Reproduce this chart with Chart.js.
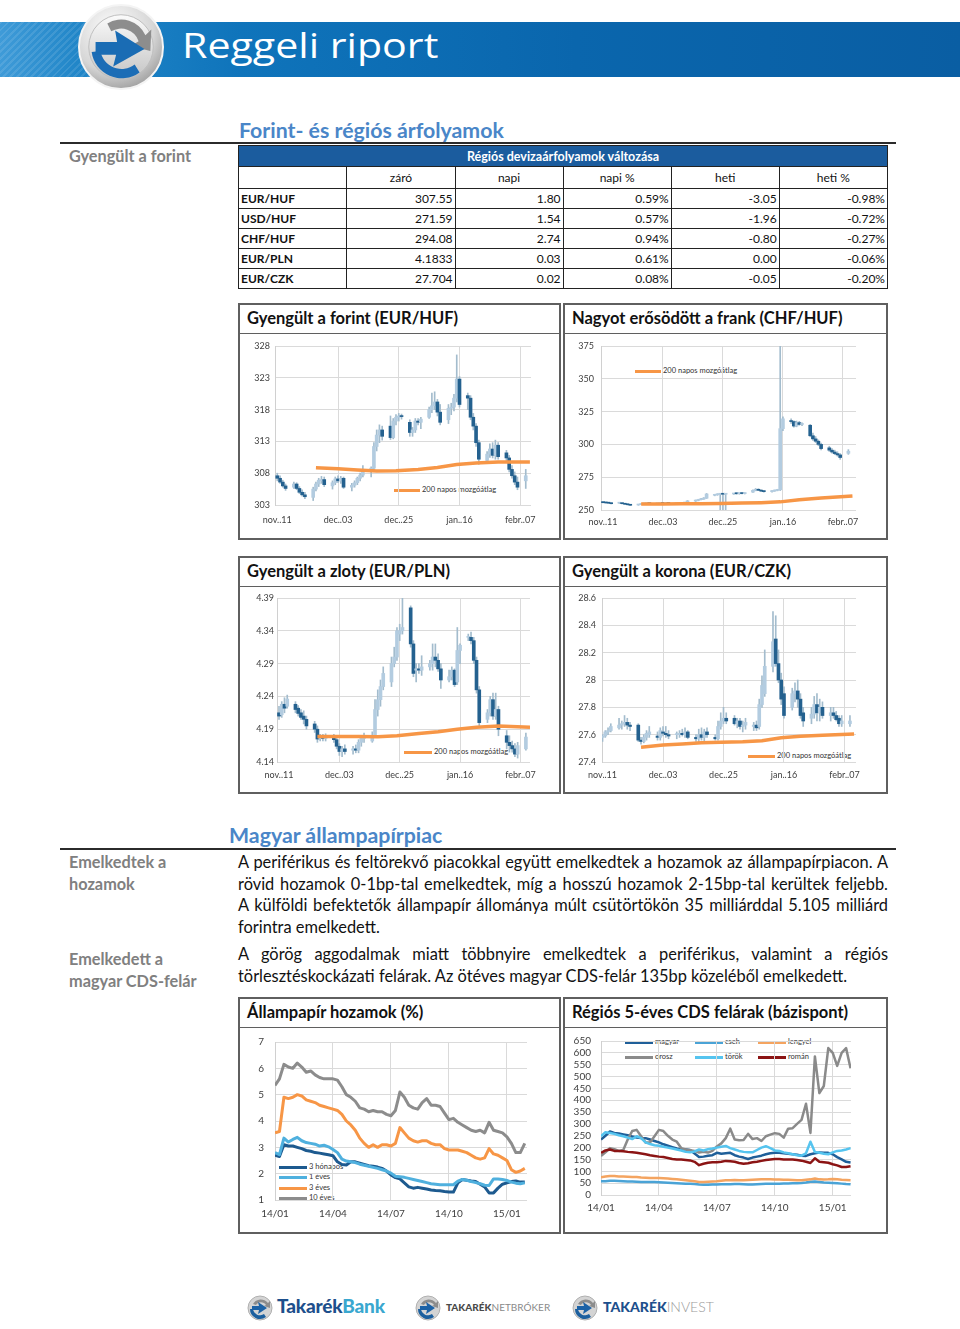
<!DOCTYPE html>
<html>
<head>
<meta charset="utf-8">
<script src="https://cdn.jsdelivr.net/npm/chart.js@4.4.1/dist/chart.umd.min.js"></script>
<style>
  body { margin:0; width:960px; height:1329px; position:relative; background:#fff; font-family:Lato, sans-serif; overflow:hidden; }
  .abs { position:absolute; }
  .band { left:0; top:22px; width:960px; height:55px;
    background:linear-gradient(90deg,#3f9bd8 0,#2186c8 8%,#0f74bb 25%,#0a66ad 60%,#0a5ea3 100%); }
  .stripes { left:0; top:22px; width:110px; height:55px;
    background:repeating-linear-gradient(135deg,rgba(255,255,255,.10) 0 2px,rgba(255,255,255,0) 2px 5px); }
  .brand { left:182px; top:28px; font-family:"Open Sans",sans-serif; font-size:34px; line-height:34px; color:#fff;
    transform:scaleX(1.21); transform-origin:left top; white-space:nowrap; }
  .h2 { font-weight:700; color:#4a86c8; font-size:21.3px; white-space:nowrap; }
  .rule { height:2px; background:#2b2b2b; }
  .side { color:#808080; font-weight:700; font-size:16.3px; line-height:22px; white-space:nowrap; }
  table.fx { position:absolute; left:238px; top:145px; width:650px; border-collapse:collapse; font-size:12px; color:#111; }
  table.fx td, table.fx th { border:1px solid #222; height:19px; padding:0 2px; }
  table.fx th { background:#1b5c9e; color:#fff; font-weight:700; font-size:12.5px; height:20px; }
  table.fx tr.hd td { text-align:center; height:21px; }
  table.fx td.num { text-align:right; }
  table.fx td.nm { font-weight:700; text-align:left; }
  .box { position:absolute; border:2px solid #5f5f5f; box-sizing:border-box; background:#fff; }
  .ttl { height:29px; border-bottom:1.5px solid #5f5f5f; box-sizing:border-box; font-weight:700; font-size:16.5px;
    line-height:27px; padding-left:7px; color:#111; white-space:nowrap; }
  canvas { position:absolute; }
  .lg { position:absolute; display:flex; align-items:center; font-size:7.5px; color:#333; white-space:nowrap; line-height:10px; }
  .lg i { display:inline-block; margin-right:2px; }
  .par { position:absolute; left:238px; width:650px; font-size:16.4px; line-height:21.7px; color:#111; }
  .par div { text-align:justify; text-align-last:justify; white-space:nowrap; }
  .par div.last { text-align-last:left; }
  .foot { position:absolute; top:1296px; display:flex; align-items:center; white-space:nowrap; }
</style>
</head>
<body>

<div class="abs band"></div>
<div class="abs stripes"></div>
<svg class="abs" style="left:77px;top:3px" width="88" height="88" viewBox="0 0 90 90">
  <defs>
    <radialGradient id="ring" cx="40%" cy="30%" r="75%">
      <stop offset="0" stop-color="#ffffff"/><stop offset="0.65" stop-color="#d6d6d6"/><stop offset="1" stop-color="#9c9c9c"/>
    </radialGradient>
    <linearGradient id="inner" x1="0" y1="0" x2="0" y2="1">
      <stop offset="0" stop-color="#fbfbfb"/><stop offset="1" stop-color="#c4c4c4"/>
    </linearGradient>
  </defs>
  <circle cx="45" cy="45" r="43" fill="url(#ring)" stroke="#f4f4f4" stroke-width="2"/>
  <circle cx="45" cy="45" r="33" fill="url(#inner)" stroke="#bdbdbd" stroke-width="1"/>
  <path d="M31 21 A27 27 0 0 1 70 33 L76 27 L75 49 L55 44 L63 39 A19 19 0 0 0 35 29 Z" fill="#8d8d8d"/>
  <path d="M15 50 A31 31 0 0 0 64 71 L59 63 A22 22 0 0 1 24 49 Z" fill="#1c6db6"/>
  <path d="M19 40 L41 40 L39 28 L69 47 L37 65 L40 53 L19 53 Z" fill="#1a6cb4"/>
</svg>
<div class="abs brand">Reggeli riport</div>

<div class="abs h2" style="left:239px;top:117px">Forint- és régiós árfolyamok</div>
<div class="abs rule" style="left:60px;top:142px;width:836px"></div>
<div class="abs side" style="left:69px;top:145px">Gyengült a forint</div>

<table class="fx" id="fxTable"></table>

<div class="box" style="left:238px;top:303px;width:323px;height:237px"><div class="ttl">Gyengült a forint (EUR/HUF)</div></div>
<div class="box" style="left:563px;top:303px;width:325px;height:237px"><div class="ttl">Nagyot erősödött a frank (CHF/HUF)</div></div>
<div class="box" style="left:238px;top:556px;width:323px;height:238px"><div class="ttl">Gyengült a zloty (EUR/PLN)</div></div>
<div class="box" style="left:563px;top:556px;width:325px;height:238px"><div class="ttl">Gyengült a korona (EUR/CZK)</div></div>

<div class="abs h2" style="left:229px;top:822px">Magyar állampapírpiac</div>
<div class="abs rule" style="left:60px;top:848px;width:836px"></div>
<div class="abs side" style="left:69px;top:851px">Emelkedtek a<br>hozamok</div>
<div class="abs side" style="left:69px;top:948px">Emelkedett a<br>magyar CDS-felár</div>
<div class="par" style="top:851px">
  <div>A periférikus és feltörekvő piacokkal együtt emelkedtek a hozamok az állampapírpiacon. A</div>
  <div>rövid hozamok 0-1bp-tal emelkedtek, míg a hosszú hozamok 2-15bp-tal kerültek feljebb.</div>
  <div>A külföldi befektetők állampapír állománya múlt csütörtökön 35 milliárddal 5.105 milliárd</div>
  <div class="last">forintra emelkedett.</div>
</div>
<div class="par" style="top:943px">
  <div>A görög aggodalmak miatt többnyire emelkedtek a periférikus, valamint a régiós</div>
  <div class="last">törlesztéskockázati felárak. Az ötéves magyar CDS-felár 135bp közeléből emelkedett.</div>
</div>

<div class="box" style="left:238px;top:997px;width:323px;height:237px"><div class="ttl">Állampapír hozamok (%)</div></div>
<div class="box" style="left:563px;top:997px;width:325px;height:237px"><div class="ttl">Régiós 5-éves CDS felárak (bázispont)</div></div>

<div id="legends"></div>
<div id="footer"></div>

<script>
// ---- table ----
const fxCols = ['záró', 'napi', 'napi %', 'heti', 'heti %'];
const fxPairs = ['EUR/HUF', 'USD/HUF', 'CHF/HUF', 'EUR/PLN', 'EUR/CZK'];
const fxClose = ['307.55', '271.59', '294.08', '4.1833', '27.704'];
const fxDay = ['1.80', '1.54', '2.74', '0.03', '0.02'];
const fxDayPct = ['0.59%', '0.57%', '0.94%', '0.61%', '0.08%'];
const fxWeek = ['-3.05', '-1.96', '-0.80', '0.00', '-0.05'];
const fxWeekPct = ['-0.98%', '-0.72%', '-0.27%', '-0.06%', '-0.20%'];

// ---- FX candles: days counted from nov. 11, one row per trading day [open, high, low, close] ----
const tradeDays = [0,1,2,3, 6,7,8,9,10, 13,14,15,16,17, 20,21,22,23,24, 27,28,29,30,31, 34,35,36,37,38,
  41,42,43,44,45, 48,49,50,51,52, 55,56,57,58,59, 62,63,64,65,66, 69,70,71,72,73, 76,77,78,79,80, 83,84,85,86,87, 90];
const dayTicks = [0, 22, 44, 66, 88];
const dayTickLabels = ['nov..11', 'dec..03', 'dec..25', 'jan..16', 'febr..07'];
const maDays = [14, 22, 29, 36, 43, 51, 58, 65, 72, 80, 91.5];

const eurhuf = [
  [307.6,308.0,306.8,307.2],[307.2,307.6,306.4,306.6],[306.6,306.9,305.8,306.0],[306.0,306.3,305.3,305.6],
  [305.8,306.6,305.6,306.3],[306.3,306.5,305.4,305.6],[305.6,305.9,304.8,305.0],[305.0,305.4,304.4,304.6],[304.6,305.0,304.0,304.3],
  [304.2,305.8,303.7,305.5],[305.5,306.6,305.2,306.3],[306.3,307.2,305.9,306.9],[306.8,307.5,306.4,307.0],[307.0,307.4,305.9,306.2],
  [306.0,306.8,305.5,306.5],[306.5,307.4,306.2,307.1],[307.1,307.6,306.5,306.8],[306.8,307.5,306.4,307.2],[307.2,307.4,305.6,305.8],
  [305.8,306.4,305.2,306.1],[306.1,306.8,305.8,306.5],[306.5,307.4,306.2,307.2],[307.2,308.0,306.8,307.7],[307.7,309.2,307.4,308.6],
  [308.4,309.0,307.4,308.8],[308.8,312.8,308.5,312.2],[312.2,314.8,311.5,314.0],[314.0,315.6,312.8,314.8],[314.8,315.4,313.2,313.8],
  [315.4,317.0,313.3,313.6],[313.6,316.6,313.4,316.2],[316.2,317.2,315.6,316.8],[316.8,317.4,316.2,317.0],[317.0,317.3,316.5,316.9],
  [316.0,316.4,313.8,314.4],[314.4,315.2,313.8,314.8],[314.8,316.6,314.4,316.2],[316.2,316.6,315.6,316.0],[316.0,316.8,315.0,316.5],
  [316.8,318.4,316.6,318.0],[318.0,320.6,317.5,318.6],[318.6,320.8,318.0,319.2],[319.2,319.6,317.0,317.6],[317.6,318.8,315.6,316.0],
  [316.4,318.8,315.8,318.2],[318.2,319.0,317.2,318.4],[318.4,320.4,317.8,319.8],[319.8,326.6,319.2,322.8],[322.8,323.2,318.4,318.8],
  [320.2,320.6,318.0,319.8],[319.8,320.2,316.4,316.8],[316.8,317.4,314.8,315.4],[315.4,315.8,312.2,312.8],[312.8,313.2,309.4,310.2],
  [310.0,311.4,309.6,311.0],[311.0,312.6,310.5,311.8],[311.8,312.8,310.4,310.8],[310.8,313.2,310.2,312.4],[312.4,312.8,310.2,310.6],
  [311.2,311.6,309.8,310.4],[310.4,310.8,308.2,308.6],[308.6,309.2,307.2,307.6],[307.6,308.2,306.2,306.6],[306.6,307.4,305.4,305.8],
  [306.8,308.6,305.6,307.6]
];
const eurhufMa = [308.85, 308.7, 308.5, 308.35, 308.4, 308.6, 308.9, 309.35, 309.6, 309.75, 309.75];
const eurhufTicks = [303, 308, 313, 318, 323, 328];

const chfhuf = [
  [255.8,256.2,255.4,255.6],[255.6,255.9,255.2,255.4],[255.4,255.7,255.0,255.2],[255.2,255.4,254.6,254.8],
  [255.2,255.6,254.9,255.3],[255.3,255.5,254.6,254.8],[254.8,255.0,254.2,254.4],[254.4,254.6,253.8,254.0],[254.0,254.2,253.4,253.6],
  [253.8,254.4,253.6,254.2],[254.2,254.8,254.0,254.6],[254.6,255.0,254.3,254.8],[254.8,255.2,254.5,255.0],[255.0,255.3,254.6,254.8],
  [254.8,255.2,254.4,254.9],[254.9,255.3,254.6,255.1],[255.1,255.4,254.8,255.0],[255.0,255.4,254.7,255.2],[255.2,255.5,254.8,255.0],
  [254.8,255.2,254.4,255.0],[255.0,255.4,254.6,255.1],[255.1,255.5,254.8,255.3],[255.3,255.9,255.0,255.6],[256.2,257.2,256.0,256.8],
  [256.8,257.6,256.5,257.3],[257.3,258.2,257.0,257.9],[257.9,258.8,257.6,258.4],[258.4,259.4,258.0,259.0],[259.0,262.6,258.8,262.2],
  [261.2,262.0,260.8,261.6],[261.6,262.4,261.2,262.0],[262.0,262.6,245.0,262.2],[262.2,262.8,245.0,262.0],[262.0,262.6,245.0,262.3],
  [262.2,262.8,261.8,262.5],[262.5,263.0,262.0,262.4],[262.4,263.0,262.0,262.6],[262.6,263.0,262.2,262.5],[262.5,263.2,262.2,262.8],
  [263.6,265.4,263.4,265.0],[265.0,266.4,264.6,265.8],[265.8,266.2,264.8,265.0],[265.0,265.4,264.0,264.4],[264.4,264.8,263.6,264.0],
  [264.0,264.8,263.6,264.5],[264.5,265.2,264.2,264.9],[264.9,265.8,264.6,265.4],[265.4,380.0,264.8,312.0],[312.0,321.0,310.5,319.5],
  [318.0,319.4,316.0,317.4],[317.4,318.0,313.2,314.0],[314.0,317.8,313.4,316.6],[316.6,317.6,314.6,315.2],[315.2,316.4,314.2,315.6],
  [314.6,315.2,305.8,306.6],[306.6,308.6,303.0,304.2],[304.2,306.0,301.4,302.4],[302.4,303.4,299.0,300.0],[300.0,301.0,295.8,296.8],
  [297.4,298.6,294.6,295.6],[295.6,296.8,293.4,294.2],[294.2,295.6,292.2,293.0],[293.0,294.4,291.0,292.0],[292.0,293.0,288.6,290.0],
  [293.2,296.0,292.4,294.8]
];
const chfhufMa = [254.6, 254.6, 254.7, 254.8, 255.0, 255.3, 255.6, 256.2, 257.8, 259.2, 260.6];
const chfhufTicks = [250, 275, 300, 325, 350, 375];

const eurpln = [
  [4.215,4.225,4.205,4.210],[4.212,4.232,4.208,4.228],[4.228,4.238,4.215,4.222],[4.225,4.242,4.222,4.236],
  [4.228,4.232,4.215,4.220],[4.222,4.226,4.210,4.214],[4.215,4.220,4.205,4.208],[4.210,4.218,4.198,4.205],[4.205,4.210,4.190,4.195],
  [4.198,4.202,4.185,4.190],[4.190,4.195,4.170,4.175],[4.176,4.182,4.172,4.178],[4.178,4.182,4.172,4.176],[4.176,4.183,4.172,4.180],
  [4.178,4.182,4.170,4.174],[4.174,4.178,4.160,4.164],[4.164,4.168,4.150,4.156],[4.156,4.164,4.148,4.160],[4.160,4.166,4.152,4.156],
  [4.158,4.164,4.152,4.160],[4.160,4.166,4.154,4.158],[4.158,4.174,4.154,4.170],[4.170,4.180,4.164,4.176],[4.176,4.184,4.170,4.178],
  [4.172,4.186,4.170,4.180],[4.180,4.235,4.178,4.220],[4.220,4.250,4.210,4.235],[4.235,4.265,4.225,4.255],[4.255,4.285,4.250,4.275],
  [4.262,4.300,4.255,4.290],[4.290,4.315,4.285,4.300],[4.300,4.345,4.295,4.340],[4.335,4.350,4.325,4.340],[4.340,4.390,4.335,4.345],
  [4.375,4.378,4.315,4.320],[4.320,4.325,4.270,4.275],[4.280,4.290,4.262,4.282],[4.282,4.290,4.275,4.280],[4.280,4.302,4.272,4.285],
  [4.285,4.295,4.280,4.290],[4.290,4.320,4.280,4.300],[4.300,4.320,4.285,4.295],[4.295,4.305,4.278,4.282],[4.282,4.290,4.252,4.265],
  [4.265,4.280,4.262,4.270],[4.270,4.285,4.265,4.280],[4.280,4.282,4.255,4.258],[4.262,4.345,4.258,4.310],[4.310,4.320,4.290,4.318],
  [4.330,4.335,4.325,4.330],[4.330,4.338,4.320,4.325],[4.325,4.330,4.290,4.295],[4.295,4.300,4.245,4.250],[4.250,4.255,4.195,4.200],
  [4.205,4.220,4.200,4.215],[4.215,4.240,4.210,4.235],[4.235,4.245,4.205,4.210],[4.210,4.245,4.205,4.220],[4.220,4.225,4.180,4.190],
  [4.180,4.188,4.160,4.170],[4.170,4.180,4.155,4.165],[4.165,4.172,4.155,4.160],[4.160,4.168,4.148,4.152],[4.152,4.170,4.146,4.165],
  [4.160,4.184,4.158,4.178]
];
const eurplnMa = [4.179, 4.179, 4.179, 4.1785, 4.180, 4.1835, 4.186, 4.190, 4.193, 4.195, 4.193];
const eurplnTicks = [4.14, 4.19, 4.24, 4.29, 4.34, 4.39];

const eurczk = [
  [27.58,27.60,27.55,27.59],[27.59,27.63,27.58,27.62],[27.62,27.65,27.60,27.63],[27.63,27.68,27.62,27.66],
  [27.65,27.72,27.64,27.67],[27.67,27.70,27.64,27.68],[27.68,27.74,27.66,27.69],[27.69,27.72,27.64,27.67],[27.67,27.69,27.63,27.66],
  [27.67,27.68,27.55,27.56],[27.56,27.58,27.53,27.55],[27.55,27.60,27.54,27.58],[27.58,27.63,27.56,27.61],[27.60,27.66,27.58,27.62],
  [27.59,27.62,27.56,27.58],[27.58,27.65,27.56,27.63],[27.62,27.66,27.59,27.61],[27.61,27.66,27.58,27.60],[27.60,27.63,27.57,27.59],
  [27.60,27.62,27.57,27.60],[27.60,27.63,27.58,27.61],[27.61,27.64,27.59,27.60],[27.60,27.65,27.58,27.62],[27.62,27.63,27.57,27.58],
  [27.58,27.60,27.55,27.57],[27.57,27.64,27.54,27.60],[27.60,27.65,27.56,27.58],[27.58,27.64,27.55,27.62],[27.62,27.65,27.58,27.60],
  [27.58,27.60,27.56,27.57],[27.57,27.70,27.56,27.66],[27.66,27.76,27.64,27.70],[27.70,27.80,27.68,27.72],[27.72,27.76,27.68,27.70],
  [27.72,27.74,27.67,27.68],[27.68,27.72,27.65,27.70],[27.70,27.72,27.64,27.66],[27.66,27.70,27.62,27.67],[27.67,27.72,27.64,27.69],
  [27.66,27.69,27.63,27.67],[27.67,27.70,27.63,27.65],[27.66,27.86,27.64,27.82],[27.82,28.03,27.80,27.96],[27.90,28.22,27.88,28.10],
  [28.10,28.50,28.06,28.28],[28.30,28.47,28.10,28.12],[28.12,28.22,27.98,28.00],[28.00,28.05,27.82,27.86],[27.90,27.95,27.72,27.74],
  [27.80,27.94,27.78,27.90],[27.90,27.98,27.84,27.92],[27.92,28.00,27.80,27.86],[27.86,27.90,27.72,27.74],[27.76,27.80,27.66,27.70],
  [27.72,27.80,27.68,27.75],[27.75,27.88,27.72,27.82],[27.82,27.90,27.70,27.76],[27.76,27.86,27.70,27.80],[27.80,27.84,27.72,27.74],
  [27.74,27.80,27.70,27.76],[27.76,27.80,27.72,27.74],[27.74,27.77,27.70,27.71],[27.72,27.74,27.66,27.68],[27.68,27.74,27.66,27.70],
  [27.68,27.74,27.66,27.70]
];
const eurczkMa = [27.508, 27.525, 27.532, 27.54, 27.544, 27.548, 27.556, 27.578, 27.588, 27.595, 27.605];
const eurczkTicks = [27.4, 27.6, 27.8, 28.0, 28.2, 28.4, 28.6];

// ---- weekly series, week 0 = first week of 2014 ----
const weeks = Array.from({length: 57}, (_, i) => i);
const quarterTicks = [0, 13, 26, 39, 52];
const quarterLabels = ['14/01', '14/04', '14/07', '14/10', '15/01'];

const yield3m = [2.7,2.65,3.1,3.05,3.05,3.0,2.95,2.88,2.85,2.8, 2.78,2.75,2.72,2.68,2.45,2.35,2.33,2.45,2.45,2.4,
  2.35,2.3,2.28,2.25,2.2,2.1,1.95,1.85,1.8,1.65, 1.5,1.45,1.48,1.45,1.42,1.38,1.36,1.35,1.32,1.3,
  1.3,1.65,1.78,1.75,1.72,1.7,1.6,1.5,1.27,1.27, 1.45,1.6,1.65,1.7,1.72,1.68,1.68];
const yield1y = [2.8,2.72,3.35,3.2,3.3,3.38,3.25,3.18,3.15,3.12, 3.05,3.08,3.02,2.92,2.8,2.55,2.48,2.45,2.42,2.36,
  2.32,2.28,2.24,2.2,2.15,2.1,2.02,1.9,1.88,1.86, 1.82,1.78,1.74,1.7,1.66,1.62,1.6,1.58,1.58,1.58,
  1.58,1.72,1.78,1.75,1.7,1.66,1.62,1.56,1.55,1.8, 1.8,1.78,1.74,1.68,1.64,1.62,1.65];
const yield3y = [3.55,3.6,4.9,4.85,4.9,5.0,4.95,4.8,4.75,4.7, 4.6,4.55,4.5,4.45,4.4,4.25,4.0,3.85,3.65,3.35,
  3.15,3.0,3.1,3.0,3.1,3.1,3.05,3.15,3.75,3.55, 3.35,3.25,3.2,3.25,3.25,3.15,3.1,3.1,2.95,2.9,
  2.9,2.9,2.85,2.8,2.7,2.6,2.55,2.6,2.95,2.75, 2.7,2.6,2.5,2.15,2.05,2.1,2.2];
const yield10y = [5.35,5.6,6.15,6.05,6.0,6.2,6.05,5.85,5.9,5.75, 5.65,5.6,5.6,5.6,5.55,5.3,5.0,4.9,4.75,4.5,
  4.45,4.35,4.4,4.35,4.35,4.25,4.2,4.4,5.1,4.9, 4.6,4.5,4.45,4.7,4.85,4.6,4.6,4.55,4.3,4.05,
  4.1,3.95,3.85,3.75,3.65,3.6,3.65,3.55,3.95,3.65, 3.6,3.55,3.4,3.15,2.8,2.8,3.15];
const yieldNames = ['3 hónapos', '1 éves', '3 éves', '10 éves'];
const yieldTicks = [1, 2, 3, 4, 5, 6, 7];

const cdsHu = [234,250,268,262,260,256,252,247,243,240, 240,234,228,222,214,208,202,196,192,192,
  190,175,160,162,166,168,178,174,176,178, 168,162,158,152,158,162,166,172,176,178,
  178,176,174,172,170,166,165,172,176,179, 178,178,172,160,150,140,137];
const cdsCz = [58,58,60,60,59,58,57,57,56,55, 55,55,55,54,53,52,51,50,49,48, 47,46,44,43,43,44,44,45,45,45,
  46,46,45,44,44,45,46,47,47,48, 48,49,49,50,50,51,53,56,57,55, 53,52,51,50,48,46,45];
const cdsPl = [75,78,80,80,78,78,77,76,76,74, 73,72,72,72,71,70,68,66,64,62, 60,58,55,55,56,57,58,60,62,62,
  63,62,62,63,64,65,66,66,66,65, 65,64,64,63,62,62,64,66,70,66, 65,66,68,66,64,63,62];
const cdsRu = [165,180,198,193,186,190,234,270,275,248, 222,222,248,275,270,250,234,225,198,192,
  189,186,179,182,179,186,205,218,240,280, 234,231,232,258,236,240,228,248,255,261,
  258,242,280,282,300,317,385,262,585,430, 460,620,600,545,600,620,535];
const cdsTr = [248,265,262,258,252,248,242,236,248,240, 222,215,210,208,204,200,196,192,188,182,
  180,184,192,188,193,196,200,204,207,198, 192,186,182,180,180,190,200,206,198,188,
  186,180,176,172,168,166,176,225,182,178, 174,172,180,186,188,192,198];
const cdsRo = [178,188,192,186,186,185,182,180,178,175, 172,168,165,162,160,156,152,150,150,148,
  146,140,126,132,136,138,138,140,144,142, 140,135,132,134,138,140,144,148,150,152,
  152,150,150,150,148,145,140,135,155,140, 138,136,130,125,118,118,121];
const cdsNames = ['magyar', 'cseh', 'lengyel', 'orosz', 'török', 'román'];
const cdsTicks = [0,50,100,150,200,250,300,350,400,450,500,550,600,650];

// ---- build table ----
let html = '<tr><th colspan="6">Régiós devizaárfolyamok változása</th></tr>';
html += '<tr class="hd"><td style="width:104px"></td>' + fxCols.map(c => `<td style="width:104px">${c}</td>`).join('') + '</tr>';
fxPairs.forEach((p, i) => {
  html += `<tr><td class="nm">${p}</td><td class="num">${fxClose[i]}</td><td class="num">${fxDay[i]}</td>` +
    `<td class="num">${fxDayPct[i]}</td><td class="num">${fxWeek[i]}</td><td class="num">${fxWeekPct[i]}</td></tr>`;
});
document.getElementById('fxTable').innerHTML = html;

// ---- charts ----
Chart.defaults.font.family = 'Lato, sans-serif';
Chart.defaults.color = '#404040';

function makeCanvas(L) {
  const c = document.createElement('canvas');
  c.width = L.w; c.height = L.h;
  c.style.left = L.l + 'px'; c.style.top = L.t + 'px';
  document.body.appendChild(c);
  return c;
}

function axisOptions(L, xTicks, xLabels, yTicks) {
  return {
    responsive: false,
    animation: false,
    layout: { padding: { left: 0, top: L.pt - L.t, right: (L.l + L.w) - L.pr, bottom: 0 } },
    plugins: { legend: { display: false }, tooltip: { enabled: false } },
    scales: {
      x: {
        type: 'linear', min: L.xmin, max: L.xmax, offset: false,
        afterBuildTicks: s => { s.ticks = xTicks.map(v => ({ value: v })); },
        afterFit: s => { s.height = (L.t + L.h) - L.pb; },
        grid: { offset: false, drawTicks: false, color: ctx => (ctx.tick && ctx.tick.value === 0) ? 'rgba(0,0,0,0)' : '#dadada' },
        border: { display: false },
        ticks: { autoSkip: false, maxRotation: 0, padding: L.xpad, font: { size: L.fs },
          callback: v => xLabels[xTicks.indexOf(v)] }
      },
      y: {
        min: yTicks[0], max: yTicks[yTicks.length - 1], beginAtZero: false,
        afterBuildTicks: s => { s.ticks = yTicks.map(v => ({ value: v })); },
        afterFit: s => { s.width = L.pl - L.l; },
        grid: { drawTicks: false, color: '#dadada' },
        border: { display: true, color: '#d0d0d0' },
        ticks: { autoSkip: false, padding: L.ypad, font: { size: L.fs }, callback: v => String(+v.toFixed(2)) }
      }
    }
  };
}

function candleChart(L, ohlc, ma, yTicks) {
  const wicks = tradeDays.map((d, i) => ({ x: d, y: [ohlc[i][2], ohlc[i][1]] }));
  const bodies = tradeDays.map((d, i) => ({ x: d, y: [ohlc[i][0], ohlc[i][3]] }));
  const bodyColors = ohlc.map(r => r[3] >= r[0] ? '#b3cce0' : '#24618f');
  new Chart(makeCanvas(L), {
    type: 'bar',
    data: {
      datasets: [
        { type: 'line', data: maDays.map((d, i) => ({ x: d, y: ma[i] })), borderColor: '#f79646',
          borderWidth: 3.5, pointRadius: 0, tension: 0, order: 0 },
        { data: bodies, backgroundColor: bodyColors, barThickness: 3, grouped: false, minBarLength: 1, order: 1, clip: 0 },
        { data: wicks, backgroundColor: '#a3bccd', barThickness: 1, grouped: false, order: 2, clip: 0 }
      ]
    },
    options: axisOptions(L, dayTicks, dayTickLabels, yTicks)
  });
}

function weeklyChart(L, series, yTicks) {
  new Chart(makeCanvas(L), {
    type: 'line',
    data: {
      datasets: series.map((s, k) => ({
        data: weeks.map((w, i) => ({ x: w, y: s.values[i] })),
        borderColor: s.color, borderWidth: s.width, pointRadius: 0, tension: 0,
        borderJoinStyle: 'round', order: series.length - k
      }))
    },
    options: axisOptions(L, quarterTicks, quarterLabels, yTicks)
  });
}

const frames = {
  huf:  { l:240, t:333, w:320, h:205, pl:275, pr:531, pt:346, pb:505, xmin:-0.83, xmax:91.9, xpad:10, ypad:5, fs:9 },
  chf:  { l:565, t:333, w:321, h:205, pl:601, pr:856, pt:346, pb:510, xmin:-0.73, xmax:92.8, xpad:7, ypad:7, fs:9 },
  pln:  { l:240, t:586, w:320, h:206, pl:277, pr:530, pt:598, pb:762, xmin:-0.73, xmax:91.5, xpad:8, ypad:3, fs:9 },
  czk:  { l:565, t:586, w:321, h:206, pl:602, pr:856, pt:598, pb:762, xmin:-0.2, xmax:92.2, xpad:8, ypad:6, fs:9 },
  bond: { l:240, t:1025, w:320, h:206, pl:275, pr:527, pt:1038, pb:1200, xmin:0, xmax:56.5, xpad:8, ypad:11, fs:10 },
  cds:  { l:565, t:1025, w:321, h:206, pl:601, pr:851, pt:1038, pb:1195, xmin:0, xmax:56.1, xpad:7, ypad:10, fs:10 }
};

candleChart(frames.huf, eurhuf, eurhufMa, eurhufTicks);
candleChart(frames.chf, chfhuf, chfhufMa, chfhufTicks);
candleChart(frames.pln, eurpln, eurplnMa, eurplnTicks);
candleChart(frames.czk, eurczk, eurczkMa, eurczkTicks);

const yieldColors = ['#1d5a8f', '#4fb0de', '#f79646', '#8c8c8c'];
weeklyChart(frames.bond, [
  { values: yield3m, color: yieldColors[0], width: 3 },
  { values: yield1y, color: yieldColors[1], width: 3 },
  { values: yield3y, color: yieldColors[2], width: 3 },
  { values: yield10y, color: yieldColors[3], width: 3 }
], yieldTicks);

const cdsColors = ['#1f5f99', '#4aa3d6', '#f4a460', '#8a8a8a', '#55c4ef', '#8b1414'];
weeklyChart(frames.cds, [
  { values: cdsHu, color: cdsColors[0], width: 2.5 },
  { values: cdsCz, color: cdsColors[1], width: 2.5 },
  { values: cdsPl, color: cdsColors[2], width: 2.5 },
  { values: cdsRu, color: cdsColors[3], width: 2.5 },
  { values: cdsTr, color: cdsColors[4], width: 2.5 },
  { values: cdsRo, color: cdsColors[5], width: 2.5 }
], cdsTicks);

// ---- legends (html text over the canvases) ----
function legendItem(x, y, len, color, text) {
  return `<div class="lg" style="left:${x}px;top:${y - 5}px"><i style="width:${len}px;height:3px;background:${color}"></i>${text}</div>`;
}
let lg = '';
lg += legendItem(394, 490, 26, '#f79646', '200 napos mozgóátlag');
lg += legendItem(635, 371, 26, '#f79646', '200 napos mozgóátlag');
lg += legendItem(404, 752, 28, '#f79646', '200 napos mozgóátlag');
lg += legendItem(748, 756, 27, '#f79646', '200 napos mozgóátlag');
const bondLegendY = [1167, 1177, 1188, 1198];
yieldNames.forEach((n, i) => { lg += legendItem(279, bondLegendY[i], 28, yieldColors[i], n); });
const cdsLegendX = [625, 695, 758];
const cdsLegendY = [1042, 1057];
cdsNames.forEach((n, i) => { lg += legendItem(cdsLegendX[i % 3], cdsLegendY[Math.floor(i / 3)], 28, cdsColors[i], n); });
document.getElementById('legends').innerHTML = lg;

// ---- footer logos ----
function icon(x) {
  return `<svg class="abs" style="left:${x - 13}px;top:1295px" width="26" height="26" viewBox="0 0 26 26">
    <circle cx="13" cy="13" r="12" fill="#d4d4d4" stroke="#b0b0b0"/>
    <path d="M6 9 A9 9 0 0 1 21 8 L23 6 L23 13 L17 11 L19 10 A6 6 0 0 0 9 10 Z" fill="#8c8c8c"/>
    <path d="M3 14 A10 10 0 0 0 19 22 L17 19 A7 7 0 0 1 6 14 Z" fill="#1c5f9e"/>
    <path d="M5 11 L12 11 L11 7 L20 13 L11 19 L12 15 L5 15 Z" fill="#1c62a6"/></svg>`;
}
let ft = icon(260) + icon(428) + icon(585);
ft += `<div class="foot" style="left:277px;top:1294px;font-weight:900;font-size:19px;letter-spacing:-0.2px"><span style="color:#1d4f8c">Takarék</span><span style="color:#3aa7cf">Bank</span></div>`;
ft += `<div class="foot" style="left:446px;top:1301px;font-size:10px"><span style="color:#4a4a4a;font-weight:900">TAKARÉK</span><span style="color:#8a8a8a">NETBRÓKER</span></div>`;
ft += `<div class="foot" style="left:603px;top:1298px;font-size:14px"><span style="color:#1d4f8c;font-weight:900">TAKARÉK</span><span style="color:#9a9a9a;font-weight:300">INVEST</span></div>`;
document.getElementById('footer').innerHTML = ft;
</script>
</body>
</html>
